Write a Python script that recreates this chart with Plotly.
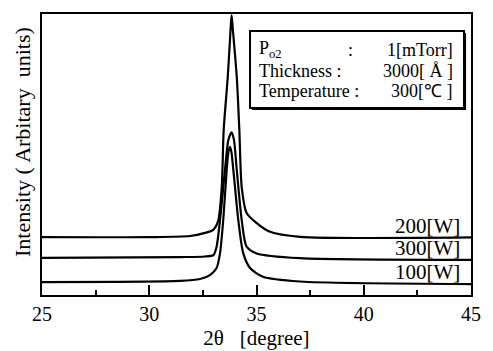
import plotly.graph_objects as go

# ---- data ----
theta_200 = [25.00, 30.03, 31.90, 32.60, 32.97, 33.21, 33.38, 33.47, 33.66, 33.79, 33.84,
             33.90, 34.08, 34.20, 34.31, 34.54, 35.01, 35.63, 37.03, 45.00]
int_200 = [20.6, 20.6, 21.0, 22.1, 23.1, 26.3, 38.4, 58.7, 77.6, 94.3, 99.6,
           94.3, 77.6, 58.7, 38.4, 29.2, 25.6, 22.5, 20.7, 20.5]

theta_300 = [25.00, 31.43, 32.60, 32.99, 33.14, 33.30, 33.53, 33.69, 33.84, 33.95,
             34.08, 34.31, 34.54, 35.01, 37.03, 45.00]
int_300 = [13.2, 13.5, 13.7, 14.2, 17.2, 26.7, 44.5, 55.2, 57.9, 55.2,
           44.5, 26.7, 17.2, 14.8, 13.1, 12.5]

theta_100 = [25.00, 31.43, 32.37, 32.83, 33.14, 33.30, 33.45, 33.61, 33.69, 33.76,
             33.83, 33.92, 34.15, 34.38, 34.70, 35.30, 37.03, 45.00]
int_100 = [4.6, 5.0, 5.7, 7.1, 9.6, 14.9, 26.7, 44.5, 50.9, 52.7,
           50.9, 44.5, 26.7, 14.9, 9.6, 6.5, 4.8, 3.9]

series_names = ["200[W]", "300[W]", "100[W]"]
x_ticks = [25, 30, 35, 40, 45]

info_left = ["P<sub>o2</sub>", "Thickness :", "Temperature :"]
info_right = ["1[mTorr]", "3000[ Å ]", "300[℃ ]"]

FONT = "Liberation Serif"

fig = go.Figure()
for xs, ys, nm in [(theta_200, int_200, series_names[0]),
                   (theta_300, int_300, series_names[1]),
                   (theta_100, int_100, series_names[2])]:
    fig.add_trace(go.Scatter(x=xs, y=ys, mode="lines", name=nm,
                             line=dict(color="black", width=2.2, shape="spline", smoothing=0.7),
                             showlegend=False))

fig.update_layout(
    width=493, height=351,
    margin=dict(l=42, r=22, t=14, b=56, autoexpand=False),
    paper_bgcolor="white", plot_bgcolor="white",
    font=dict(family=FONT, color="black", size=18),
    xaxis=dict(range=[25, 45], tickvals=x_ticks, ticktext=[str(v) for v in x_ticks],
               automargin=False,
               ticks="inside", ticklen=10, tickwidth=1.5, tickcolor="black",
               minor=dict(dtick=2.5, tick0=25, ticks="inside", ticklen=5, tickwidth=1.5, tickcolor="black"),
               showline=True, linecolor="black", linewidth=2, mirror=True,
               showgrid=False, zeroline=False,
               tickfont=dict(family=FONT, size=20, color="black"),
               title=dict(text="2θ   [degree]", font=dict(family=FONT, size=21), standoff=6)),
    yaxis=dict(range=[0, 100], showticklabels=False, ticks="", automargin=False,
               showline=True, linecolor="black", linewidth=2, mirror=True,
               showgrid=False, zeroline=False),
)

# y-axis title
fig.add_annotation(text="Intensity ( Arbitary  units)", textangle=-90,
                   xref="paper", yref="paper", x=-0.047, y=0.544,
                   xanchor="center", yanchor="middle", showarrow=False,
                   font=dict(family=FONT, size=22, color="black"))

# info box with shadow
fig.add_shape(type="rect", xref="paper", yref="paper",
              x0=0.4895, x1=0.9885, y0=0.6585, y1=0.9325,
              line=dict(width=0), fillcolor="black")
fig.add_shape(type="rect", xref="paper", yref="paper",
              x0=0.4849, x1=0.9837, y0=0.6655, y1=0.9395,
              line=dict(color="black", width=2), fillcolor="white")

line_y = [0.872, 0.7972, 0.7260]
for ty, lt, rt in zip(line_y, info_left, info_right):
    fig.add_annotation(text=lt, xref="paper", yref="paper", x=0.5000, y=ty,
                       xanchor="left", yanchor="middle", showarrow=False,
                       font=dict(family=FONT, size=18, color="black"))
    fig.add_annotation(text=rt, xref="paper", yref="paper", x=0.9620, y=ty,
                       xanchor="right", yanchor="middle", showarrow=False,
                       font=dict(family=FONT, size=18, color="black"))
fig.add_annotation(text=":", xref="paper", yref="paper", x=0.718, y=line_y[0],
                   xanchor="center", yanchor="middle", showarrow=False,
                   font=dict(family=FONT, size=18, color="black"))

# series labels
for nm, ty in zip(series_names, [0.2456, 0.166, 0.083]):
    fig.add_annotation(text=nm, xref="paper", yref="paper", x=0.978, y=ty,
                       xanchor="right", yanchor="middle", showarrow=False,
                       font=dict(family=FONT, size=21, color="black"))

fig.write_html("out.html")
